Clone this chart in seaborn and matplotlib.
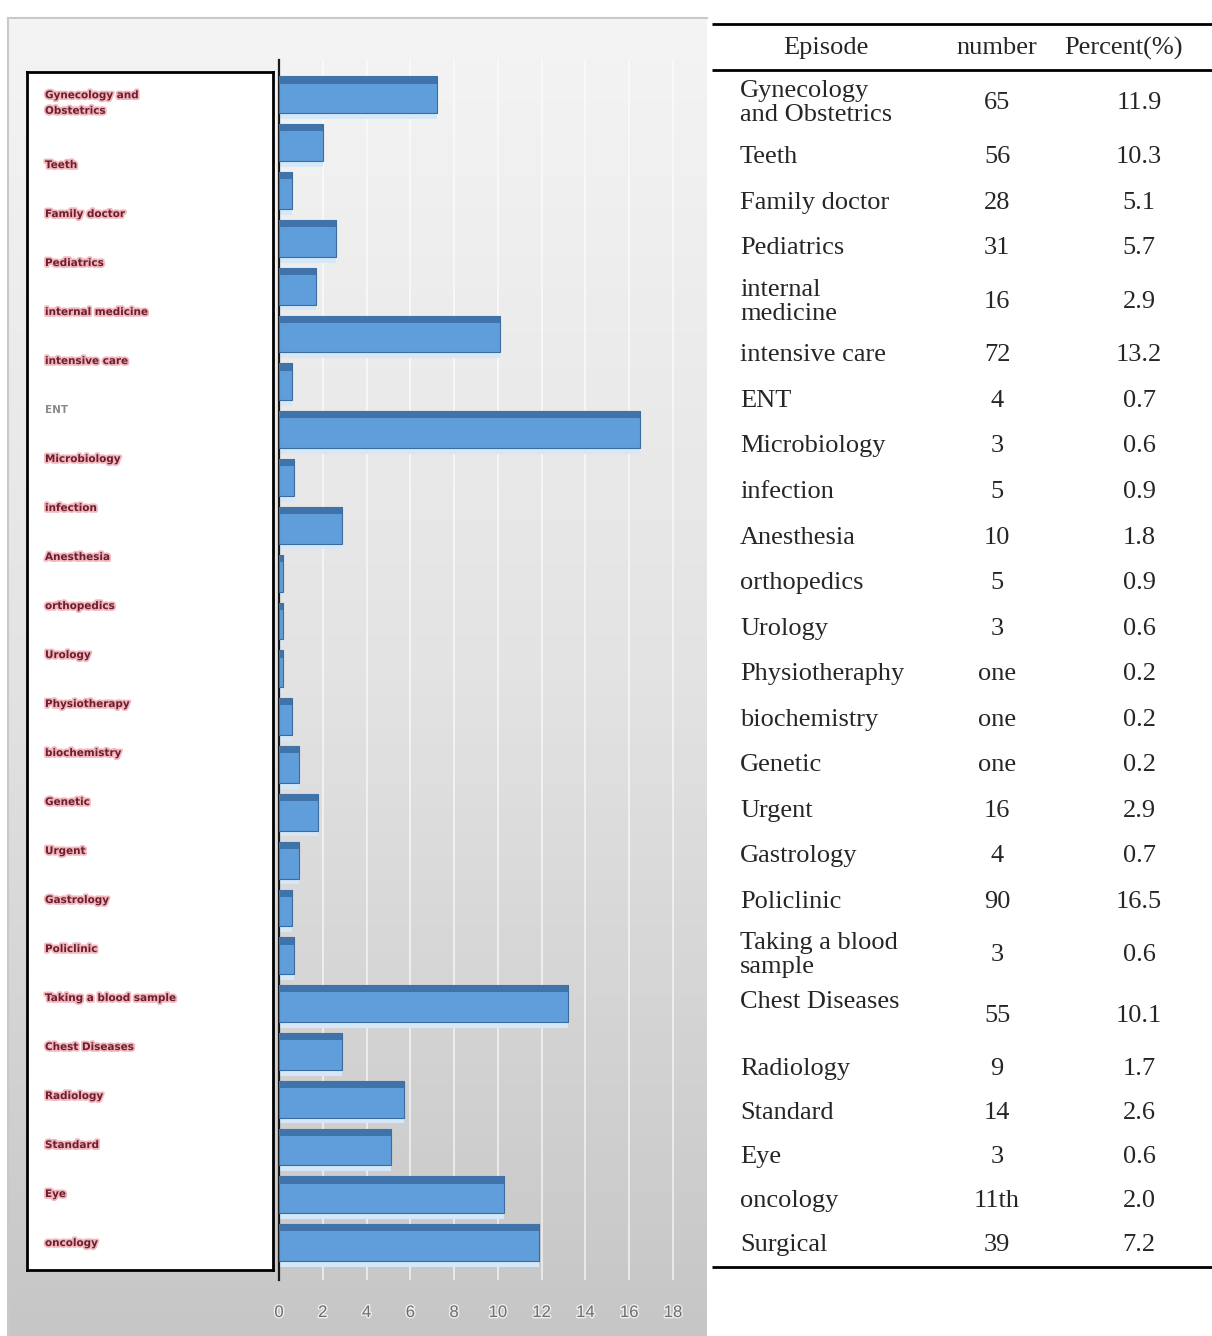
import numpy as np
import pandas as pd
import seaborn as sns
import matplotlib
matplotlib.use("Agg")
import matplotlib.pyplot as plt
import matplotlib.patheffects as pe
from matplotlib.colors import LinearSegmentedColormap

# ---- data -------------------------------------------------------------
episodes = [
    "Gynecology and Obstetrics", "Teeth", "Family doctor", "Pediatrics",
    "internal medicine", "intensive care", "ENT", "Microbiology", "infection",
    "Anesthesia", "orthopedics", "Urology", "Physiotheraphy", "biochemistry",
    "Genetic", "Urgent", "Gastrology", "Policlinic", "Taking a blood sample",
    "Chest Diseases", "Radiology", "Standard", "Eye", "oncology", "Surgical",
]
table_names = [
    "Gynecology\nand Obstetrics", "Teeth", "Family doctor", "Pediatrics",
    "internal\nmedicine", "intensive care", "ENT", "Microbiology", "infection",
    "Anesthesia", "orthopedics", "Urology", "Physiotheraphy", "biochemistry",
    "Genetic", "Urgent", "Gastrology", "Policlinic", "Taking a blood\nsample",
    "Chest Diseases", "Radiology", "Standard", "Eye", "oncology", "Surgical",
]
numbers = ["65", "56", "28", "31", "16", "72", "4", "3", "5", "10", "5", "3",
           "one", "one", "one", "16", "4", "90", "3", "55", "9", "14", "3",
           "11th", "39"]
percents = [11.9, 10.3, 5.1, 5.7, 2.9, 13.2, 0.7, 0.6, 0.9, 1.8, 0.9, 0.6,
            0.2, 0.2, 0.2, 2.9, 0.7, 16.5, 0.6, 10.1, 1.7, 2.6, 0.6, 2.0, 7.2]
header = ["Episode", "number", "Percent(%)"]
box_labels = [
    "Gynecology and\nObstetrics", "Teeth", "Family doctor", "Pediatrics",
    "internal medicine", "intensive care", "ENT", "Microbiology", "infection",
    "Anesthesia", "orthopedics", "Urology", "Physiotherapy", "biochemistry",
    "Genetic", "Urgent", "Gastrology", "Policlinic", "Taking a blood sample",
    "Chest Diseases", "Radiology", "Standard", "Eye", "oncology",
]
x_ticks = [0, 2, 4, 6, 8, 10, 12, 14, 16, 18]

# ---- figure -----------------------------------------------------------
W, H = 1212, 1336
fig = plt.figure(figsize=(W / 100, H / 100), dpi=100)
fig.patch.set_facecolor("white")


def frac(x0, y0, x1, y1):
    """pixel box (top-left origin) -> figure fraction rect"""
    return [x0 / W, 1 - y1 / H, (x1 - x0) / W, (y1 - y0) / H]


# gradient panel behind the chart
ax_bg = fig.add_axes(frac(8, 18, 707, H))
grad = LinearSegmentedColormap.from_list("panel", ["#f4f4f4", "#e3e3e3", "#c6c6c6"])
ax_bg.imshow(np.linspace(0, 1, 256).reshape(-1, 1), aspect="auto", cmap=grad,
             extent=[0, 1, 0, 1], origin="upper")
ax_bg.set_xlim(0, 1)
ax_bg.set_ylim(0, 1)
ax_bg.set_xticks([])
ax_bg.set_yticks([])
for side in ["right", "bottom"]:
    ax_bg.spines[side].set_visible(False)
for side in ["top", "left"]:
    ax_bg.spines[side].set_color("#c9c9c9")
    ax_bg.spines[side].set_linewidth(1.5)

# bar chart
sns.set_style("white")
ax = fig.add_axes(frac(279, 60, 708, 1280))
ax.patch.set_alpha(0)
df = pd.DataFrame({"episode": episodes, "percent": percents})
order = episodes[::-1]
sns.barplot(data=df, x="percent", y="episode", order=order, orient="h",
            color="#5f9edb", saturation=1, width=0.77, edgecolor="#3b6b9f",
            linewidth=0.8, ax=ax, zorder=3)
vals = df.set_index("episode").loc[order, "percent"].to_numpy()
pos = np.arange(len(order))
# darker top band and pale reflection under each bar
ax.barh(pos - 0.385 + 0.075, vals, height=0.15, color="#3f73aa",
        linewidth=0, edgecolor="none", zorder=4)
ax.barh(pos + 0.385 + 0.06, vals, height=0.12, color="#d6e8f8",
        linewidth=0, edgecolor="none", zorder=2)

ax.set_xlim(0, 19.6)
ax.set_ylim(24.78, -0.73)
ax.set_xticks(x_ticks)
ax.set_xticklabels([str(t) for t in x_ticks])
ax.set_yticks([])
ax.set_xlabel("")
ax.set_ylabel("")
for t in x_ticks[1:]:
    ax.axvline(t, color="white", lw=1.2, alpha=0.7, zorder=1)
for side in ["top", "right", "bottom"]:
    ax.spines[side].set_visible(False)
ax.spines["left"].set_color("#1a1a1a")
ax.spines["left"].set_linewidth(1.6)
ax.tick_params(axis="x", length=0, pad=18, labelsize=12, labelcolor="#707070")
for lab in ax.get_xticklabels():
    lab.set_fontfamily("Liberation Sans")
    lab.set_path_effects([pe.withStroke(linewidth=2, foreground="white", alpha=0.7)])

# white label box
ax_box = fig.add_axes(frac(27, 72, 273, 1270))
ax_box.set_facecolor("white")
ax_box.set_xlim(27, 273)
ax_box.set_ylim(1270, 72)
ax_box.set_xticks([])
ax_box.set_yticks([])
for s in ax_box.spines.values():
    s.set_color("black")
    s.set_linewidth(2)
label_y = [103] + [165 + 49 * i for i in range(len(box_labels) - 1)]
for name, y in zip(box_labels, label_y):
    is_ent = name == "ENT"
    ax_box.text(45, y, name, fontsize=7.5, va="center", ha="left",
                color="#8a8a8a" if is_ent else "#6a1f2e", linespacing=1.7,
                fontweight="bold",
                path_effects=[] if is_ent else
                [pe.withStroke(linewidth=2.6, foreground="#f4b6bd")])

# table
ax_t = fig.add_axes(frac(700, 0, W, H))
ax_t.set_xlim(700, W)
ax_t.set_ylim(H, 0)
ax_t.axis("off")
serif = "Liberation Serif"
fs = 19
for yy in (24, 70, 1267):
    ax_t.plot([712, W], [yy, yy], color="black", lw=2, solid_capstyle="butt")
for txt, xx in zip(header, [826, 997, 1123]):
    ax_t.text(xx, 48, txt, fontsize=fs, family=serif, ha="center", va="center")

row_y = [103, 157, 203, 248, 302, 355, 401, 446, 492, 538, 583, 629, 674,
         720, 765, 811, 856, 902, 955, 1016, 1069, 1113, 1157, 1201, 1245]
for name, num, pct, y in zip(table_names, numbers, percents, row_y):
    name_y = y - 14 if name == "Chest Diseases" else y
    ax_t.text(740, name_y, name, fontsize=fs, family=serif, ha="left",
              va="center", linespacing=1.14)
    ax_t.text(997, y, num, fontsize=fs, family=serif, ha="center", va="center")
    ax_t.text(1139, y, f"{pct:.1f}", fontsize=fs, family=serif, ha="center",
              va="center")

fig.savefig("out.png", dpi=100)
